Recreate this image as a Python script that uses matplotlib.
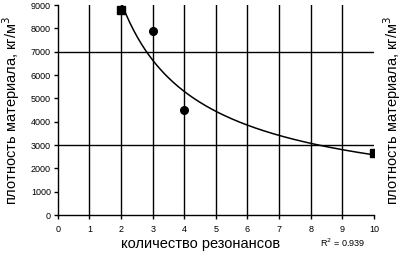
import numpy as np
import matplotlib
matplotlib.use("Agg")
import matplotlib.pyplot as plt

plt.rcParams['font.family'] = ['Liberation Sans', 'DejaVu Sans']

# measured points
sq_x = [2, 10]
sq_y = [8800, 2650]
circ_x = [3, 4]
circ_y = [7900, 4500]
r2_text = "R$^2$ = 0.939"

# power trendline fitted to all points
all_x = np.array(sq_x + circ_x, dtype=float)
all_y = np.array(sq_y + circ_y, dtype=float)
b, ln_a = np.polyfit(np.log(all_x), np.log(all_y), 1)
xt = np.linspace(2, 10, 200)
yt = np.exp(ln_a) * xt ** b

fig = plt.figure(figsize=(4.02, 2.56), dpi=100)
ax = fig.add_axes([0.144, 0.160, 0.786, 0.820])

for xv in range(1, 10):
    ax.axvline(xv, color='black', lw=1, zorder=1)
for yv in (3000, 7000):
    ax.axhline(yv, color='black', lw=1, zorder=1)

ax.plot(xt, yt, color='black', lw=1.1, zorder=2)
ax.plot(sq_x, sq_y, 's', color='black', ms=5.5, zorder=3)
ax.plot(circ_x, circ_y, 'o', color='black', ms=5.5, zorder=3)

ax.set_xlim(0, 10)
ax.set_ylim(0, 9000)
ax.set_xticks(range(0, 11))
ax.set_yticks(range(0, 9001, 1000))
ax.tick_params(labelsize=6.5, length=3, width=1, color='black', pad=2)
ax.tick_params(axis='x', pad=4)
for s in ('top', 'right'):
    ax.spines[s].set_visible(False)
for s in ('left', 'bottom'):
    ax.spines[s].set_linewidth(1)

fig.text(0.50, 0.045, "количество резонансов", fontsize=10.5,
         ha='center', va='center')
ax.set_ylabel("плотность материала, кг/м$^3$", fontsize=10.5, labelpad=6)
fig.text(0.976, 0.57, "плотность материала, кг/м$^3$", rotation=90,
         fontsize=10.5, ha='center', va='center')
fig.text(0.796, 0.052, r2_text, fontsize=6.5, ha='left', va='center')

fig.savefig("out.png", dpi=100)
